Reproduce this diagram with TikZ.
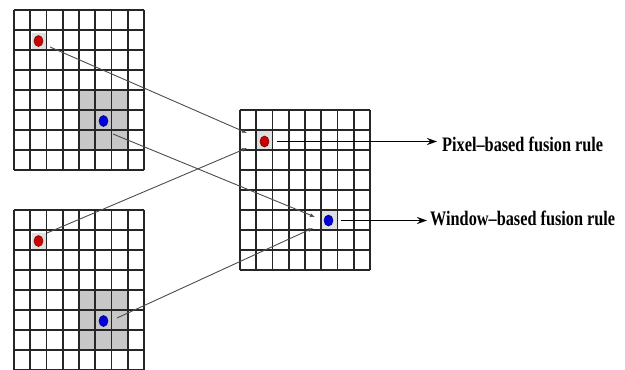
\documentclass[tikz,border=0pt]{standalone}
\usepackage{fontspec}
\setmainfont{Liberation Serif}
\usetikzlibrary{arrows.meta,shapes.geometric}

\begin{document}
\begin{tikzpicture}[x=1pt,y=-1pt,
  gridline/.style={draw=black!85,line width=1.8pt},
  window/.style={fill=black!22},
  hilite/.style={fill=black!12},
  dot/.style={ellipse,inner sep=0pt,minimum width=9pt,minimum height=11pt,draw=#1!60!black,line width=0.6pt,fill=#1},
  link/.style={draw=black!70,line width=0.9pt,-{Latex[length=5pt,width=4pt]}},
  rule/.style={draw=black,line width=1.5pt,-{Stealth[length=10pt,width=7pt]},shorten <=12pt},
  lbl/.style={inner sep=0pt,anchor=base west}]

\useasboundingbox (0,0) rectangle (625,370);

% cell size of the 8x8 images
\def\cw{16.25}
\def\ch{20}

% shaded 3x3 windows in the two source images
\fill[window] (14+4*\cw,10+4*\ch) rectangle (14+7*\cw,10+7*\ch);
\fill[window] (14+4*\cw,210+4*\ch) rectangle (14+7*\cw,210+7*\ch);

% light highlight behind the selected pixels
\fill[hilite] (32,33) rectangle (46,49);
\fill[hilite] (32,233) rectangle (46,249);
\fill[hilite] (240+\cw,110+\ch) rectangle (240+2*\cw,110+2*\ch);
\fill[hilite] (240+5*\cw,110+5*\ch) rectangle (240+6*\cw,110+6*\ch);

% the three pixel grids
\foreach \ox/\oy in {14/10,14/210,240/110}{
  \foreach \i in {0,...,8}{
    \draw[gridline] (\ox+\i*\cw,\oy) -- (\ox+\i*\cw,\oy+8*\ch);
    \draw[gridline] (\ox,\oy+\i*\ch) -- (\ox+8*\cw,\oy+\i*\ch);
  }
}

% selected pixels
\node[dot=red!80!black]  (ra) at (38.5,41) {};
\node[dot=blue!85!black] (ba) at (103.5,121) {};
\node[dot=red!80!black]  (rb) at (38.5,241) {};
\node[dot=blue!85!black] (bb) at (103.5,321) {};
\node[dot=red!80!black]  (rc) at (264.5,141.5) {};
\node[dot=blue!85!black] (bc) at (328.5,220.5) {};

% end points of the connectors
\coordinate (sra) at (50,47);
\coordinate (srb) at (47,233);
\coordinate (sba) at (113,134);
\coordinate (sbb) at (117,318);
\coordinate (tra) at (247,133);
\coordinate (trb) at (247,148);
\coordinate (tba) at (315,217);
\coordinate (tbb) at (313,228);

\draw[link] (sra) -- (tra);
\draw[link] (srb) -- (trb);
\draw[link] (sba) -- (tba);
\draw[link] (sbb) -- (tbb);

% fusion rules
\coordinate (pe) at (437,141.5);
\coordinate (we) at (427,220.5);
\draw[rule] (rc.center) -- (pe);
\draw[rule] (bc.center) -- (we);

\node[lbl] (pl) at (442,151.5) {\resizebox{161pt}{14.5pt}{\bfseries Pixel--based fusion rule}};
\node[lbl] (wl) at (430,225.5) {\resizebox{185pt}{14.5pt}{\bfseries Window--based fusion rule}};
\end{tikzpicture}
\end{document}
